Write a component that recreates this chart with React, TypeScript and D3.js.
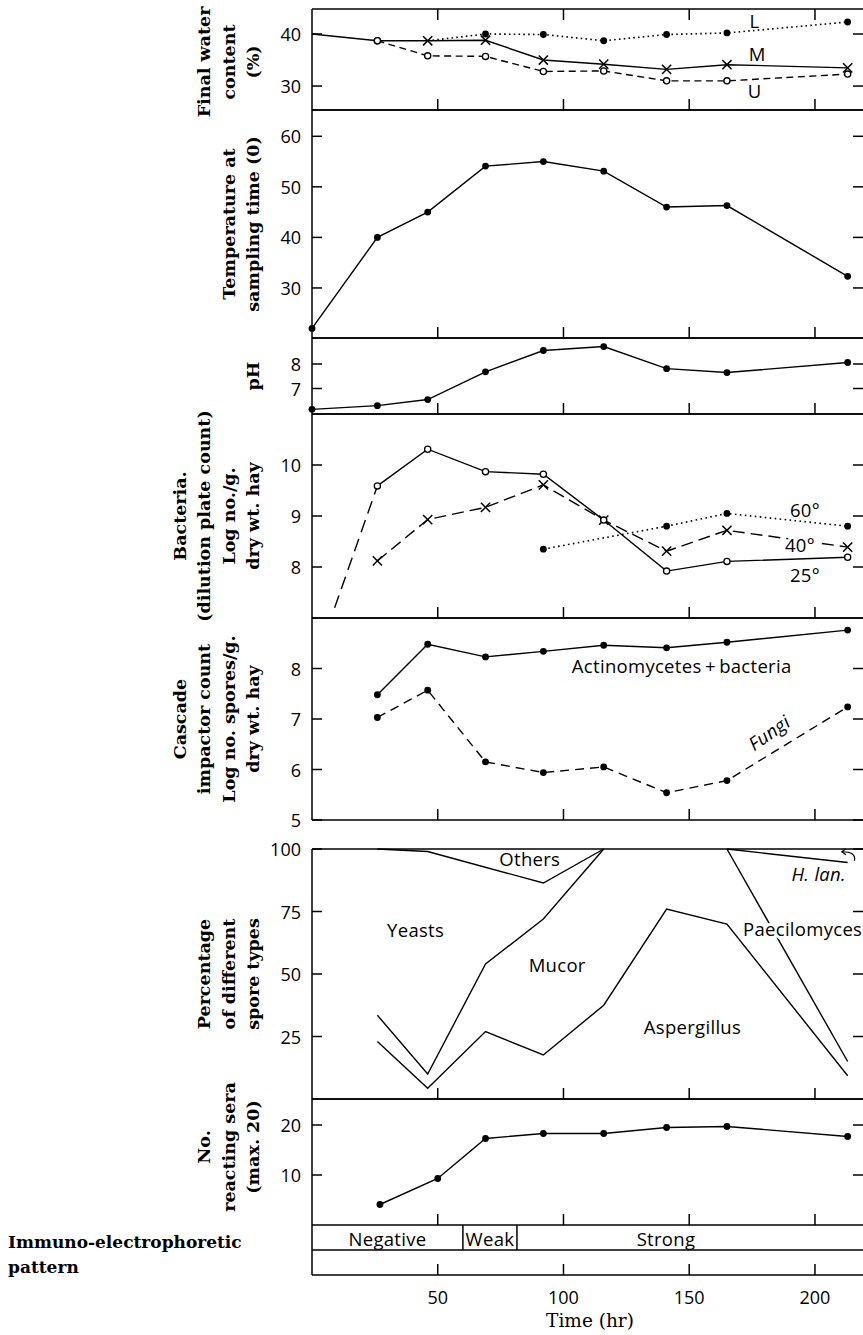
import React from 'react';
import * as d3 from 'd3';

// ---------------- data ----------------
const xTickValues = [50, 100, 150, 200];

// Final water content (%)
const waterStartTimes = [0, 26];
const waterStartValues = [40, 38.7];
const waterLTimes = [46, 69, 92, 116, 141, 165, 213];
const waterLValues = [38.7, 40.0, 39.9, 38.7, 39.9, 40.2, 42.3];
const waterMTimes = [26, 46, 69, 92, 116, 141, 165, 213];
const waterMValues = [38.7, 38.7, 38.8, 35.0, 34.2, 33.2, 34.1, 33.5];
const waterUTimes = [26, 46, 69, 92, 116, 141, 165, 213];
const waterUValues = [38.7, 35.8, 35.7, 32.8, 32.9, 31.0, 31.0, 32.3];
const waterTicks = [30, 40];

// Temperature at sampling time
const tempTimes = [0, 26, 46, 69, 92, 116, 141, 165, 213];
const tempValues = [22, 40, 45, 54.1, 55, 53.1, 46, 46.3, 32.3];
const tempTicks = [30, 40, 50, 60];

// pH
const phTimes = [0, 26, 46, 69, 92, 116, 141, 165, 213];
const phValues = [6.15, 6.3, 6.55, 7.68, 8.55, 8.71, 7.81, 7.65, 8.06];
const phTicks = [7, 8];

// Bacteria (dilution plate count)
const bactTimes = [26, 46, 69, 92, 116, 141, 165, 213];
const bact25Values = [9.59, 10.31, 9.87, 9.82, 8.92, 7.92, 8.11, 8.19];
const bact25LeadTimes = [9, 26];
const bact25LeadValues = [7.2, 9.59];
const bact40Values = [8.12, 8.93, 9.17, 9.61, 8.92, 8.31, 8.72, 8.39];
const bact60Times = [92, 141, 165, 213];
const bact60Values = [8.35, 8.8, 9.05, 8.8];
const bactTicks = [8, 9, 10];

// Cascade impactor count
const cascTimes = [26, 46, 69, 92, 116, 141, 165, 213];
const actinoValues = [7.48, 8.48, 8.23, 8.34, 8.46, 8.41, 8.52, 8.76];
const fungiValues = [7.03, 7.57, 6.15, 5.94, 6.05, 5.54, 5.78, 7.24];
const cascTicks = [5, 6, 7, 8];

// Percentage of different spore types
const othersTimes = [26, 46, 92, 116];
const othersValues = [100, 99, 86.4, 100];
const yeastMucorTimes = [26, 46, 69, 92, 116];
const yeastMucorValues = [33.5, 10, 54, 72, 100];
const mucorAspTimes = [26, 46, 69, 92, 116, 141, 165, 213];
const mucorAspValues = [23, 4.3, 27, 17.6, 37.5, 76, 70, 9.3];
const aspPaecTimes = [165, 213];
const aspPaecValues = [100, 15];
const hlanTimes = [165, 213];
const hlanValues = [100, 94.6];
const pctTicks = [25, 50, 75, 100];

// No. reacting sera
const seraTimes = [27, 50, 69, 92, 116, 141, 165, 213];
const seraValues = [4.1, 9.3, 17.3, 18.3, 18.3, 19.5, 19.7, 17.7];
const seraTicks = [10, 20];

// Immuno-electrophoretic pattern
const patternLabels = ['Negative', 'Weak', 'Strong'];
const patternBounds = [0, 60, 81.5, 200];

// ---------------- layout ----------------
const W = 863;
const H = 1335;
const XL = 312;
const XR = 864;
const x = d3.scaleLinear().domain([0, 219.5]).range([XL, XR]);

const SANS = '"Open Sans", "DejaVu Sans", sans-serif';
const SERIF = '"DejaVu Serif", serif';
const LW = 1.4;
const LABEL_SIZE = 18.5;
const TICK_SIZE = 18;
const AXLAB_SIZE = 17.5;

type Pt = [number, number];
const zip = (t: number[], v: number[]): Pt[] => t.map((ti, i) => [ti, v[i]]);

interface PanelDef {
  key: string;
  top: number;
  bottom: number;
  domain: [number, number];
  ticks: number[];
  topTicks?: boolean;
  label: string[];
  labelY: number;
}

const panels: PanelDef[] = [
  { key: 'water', top: 9, bottom: 110, domain: [25.4, 44.8], ticks: waterTicks, topTicks: true, label: ['Final water', 'content', '(%)'], labelY: 62 },
  { key: 'temp', top: 110, bottom: 338, domain: [20.1, 65.2], ticks: tempTicks, label: ['Temperature at', 'sampling time (0)'], labelY: 224 },
  { key: 'ph', top: 338, bottom: 414, domain: [5.96, 9.06], ticks: phTicks, label: ['pH'], labelY: 376 },
  { key: 'bact', top: 414, bottom: 618, domain: [7, 11], ticks: bactTicks, label: ['Bacteria.', '(dilution plate count)', 'Log no./g.', 'dry wt. hay'], labelY: 516 },
  { key: 'casc', top: 618, bottom: 820, domain: [5, 9], ticks: cascTicks, label: ['Cascade', 'impactor count', 'Log no. spores/g.', 'dry wt. hay'], labelY: 719 },
  { key: 'pct', top: 849, bottom: 1099, domain: [0, 100], ticks: pctTicks, label: ['Percentage', 'of different', 'spore types'], labelY: 974 },
  { key: 'sera', top: 1099, bottom: 1225, domain: [0, 25.2], ticks: seraTicks, label: ['No.', 'reacting sera', '(max. 20)'], labelY: 1147 },
];

const yScales: Record<string, d3.ScaleLinear<number, number>> = {};
panels.forEach((p) => {
  yScales[p.key] = d3.scaleLinear().domain(p.domain).range([p.bottom, p.top]);
});

function Marker({ kind, cx, cy }: { kind: string; cx: number; cy: number }) {
  if (kind === 'dot') return <circle cx={cx} cy={cy} r={3.4} fill="#000" />;
  if (kind === 'open') return <circle cx={cx} cy={cy} r={3.1} fill="#fff" stroke="#000" strokeWidth={1.3} />;
  if (kind === 'x') {
    const s = 4.6;
    return <path d={`M${cx - s},${cy - s}L${cx + s},${cy + s}M${cx - s},${cy + s}L${cx + s},${cy - s}`} stroke="#000" strokeWidth={1.5} fill="none" />;
  }
  return null;
}

function Series({ pk, t, v, dash, marker, skipFirstMarker, width = LW }: { pk: string; t: number[]; v: number[]; dash?: string; marker?: string; skipFirstMarker?: boolean; width?: number }) {
  const y = yScales[pk];
  const pts = zip(t, v);
  const line = d3.line<Pt>().x((d) => x(d[0])).y((d) => y(d[1]));
  return (
    <g>
      <path d={line(pts) || ''} fill="none" stroke="#000" strokeWidth={width} strokeDasharray={dash} />
      {marker && pts.map((d, i) => (skipFirstMarker && i === 0 ? null : <Marker key={i} kind={marker} cx={x(d[0])} cy={y(d[1])} />))}
    </g>
  );
}

function PanelFrame({ p }: { p: PanelDef }) {
  const y = yScales[p.key];
  const tl = 11;
  return (
    <g stroke="#000" strokeWidth={1.5} fill="none">
      <line x1={XL} x2={XL} y1={p.top} y2={p.bottom} />
      <line x1={XL} x2={XR} y1={p.top} y2={p.top} />
      <line x1={XL} x2={XR} y1={p.bottom} y2={p.bottom} />
      <line x1={XR} x2={XR} y1={p.top} y2={p.bottom} />
      {xTickValues.map((t) => (
        <line key={'b' + t} x1={x(t)} x2={x(t)} y1={p.bottom} y2={p.bottom - tl} />
      ))}
      {p.topTicks && xTickValues.map((t) => (
        <line key={'t' + t} x1={x(t)} x2={x(t)} y1={p.top} y2={p.top + tl} />
      ))}
      {p.ticks.map((v) => (
        <g key={'y' + v}>
          <line x1={XL} x2={XL + 10} y1={y(v)} y2={y(v)} />
          <line x1={XR - 11} x2={XR} y1={y(v)} y2={y(v)} />
        </g>
      ))}
      {p.ticks.map((v) => (
        <text key={'l' + v} x={301} y={y(v)} textAnchor="end" dominantBaseline="central" stroke="none" fill="#000" fontFamily={SANS} fontSize={TICK_SIZE}>
          {v}
        </text>
      ))}
      {p.label.map((s, i) => {
        const n = p.label.length;
        const cx = 253 - (n - 1 - i) * 24.5;
        return (
          <text key={'lab' + i} transform={`translate(${cx},${p.labelY}) rotate(-90)`} textAnchor="middle" dominantBaseline="central" stroke="none" fill="#000" fontFamily={SERIF} fontWeight="bold" fontSize={AXLAB_SIZE}>
            {s}
          </text>
        );
      })}
    </g>
  );
}

function Label({ pk, t, v, text, size = LABEL_SIZE, anchor = 'middle', italic = false, halo = false, rotate = 0 }: { pk: string; t: number; v: number; text: string; size?: number; anchor?: string; italic?: boolean; halo?: boolean; rotate?: number }) {
  const y = yScales[pk];
  return (
    <text
      transform={`translate(${x(t)},${y(v)}) rotate(${rotate})`}
      textAnchor={anchor as any}
      dominantBaseline="central"
      fontFamily={SANS}
      fontSize={size}
      fontStyle={italic ? 'italic' : 'normal'}
      letterSpacing={0.3}
      fill="#000"
      stroke={halo ? '#fff' : 'none'}
      strokeWidth={halo ? 6 : 0}
      paintOrder="stroke"
    >
      {text}
    </text>
  );
}

export default function App() {
  const stripTop = 1225;
  const stripMid = 1250;
  const stripBot = 1275;
  const yp = yScales['pct'];
  const arrowStart: Pt = [215.7, 95.3];
  const arrowTip: Pt = [210.7, 98.9];
  const ax0 = x(arrowStart[0]);
  const ay0 = yp(arrowStart[1]);
  const ax1 = x(arrowTip[0]);
  const ay1 = yp(arrowTip[1]);

  return (
    <svg width={W} height={H} viewBox={`0 0 ${W} ${H}`} style={{ position: 'absolute', left: 0, top: 0, background: '#fff' }}>
      <rect x={0} y={0} width={W} height={H} fill="#fff" />
      {panels.map((p) => (
        <PanelFrame key={p.key} p={p} />
      ))}

      {/* Water content */}
      <Series pk="water" t={waterStartTimes} v={waterStartValues} />
      <Series pk="water" t={waterLTimes} v={waterLValues} dash="1.6 3.2" marker="dot" skipFirstMarker width={1.6} />
      <Series pk="water" t={waterUTimes} v={waterUValues} dash="7 4.5" marker="open" />
      <Series pk="water" t={waterMTimes} v={waterMValues} marker="x" skipFirstMarker />
      <Marker kind="open" cx={x(waterUTimes[0])} cy={yScales['water'](waterUValues[0])} />
      <Label pk="water" t={176} v={42.6} text="L" />
      <Label pk="water" t={177} v={36.2} text="M" />
      <Label pk="water" t={176} v={29.2} text="U" />

      {/* Temperature */}
      <Series pk="temp" t={tempTimes} v={tempValues} marker="dot" />

      {/* pH */}
      <Series pk="ph" t={phTimes} v={phValues} marker="dot" />

      {/* Bacteria */}
      <Series pk="bact" t={bact25LeadTimes} v={bact25LeadValues} dash="13 7" />
      <Series pk="bact" t={bact60Times} v={bact60Values} dash="1.6 3.4" marker="dot" width={1.6} />
      <Series pk="bact" t={bactTimes} v={bact40Values} dash="12 6" marker="x" />
      <Series pk="bact" t={bactTimes} v={bact25Values} marker="open" />
      <Label pk="bact" t={196} v={9.12} text="60°" />
      <Label pk="bact" t={194} v={8.45} text="40°" halo />
      <Label pk="bact" t={196} v={7.85} text="25°" />

      {/* Cascade */}
      <Series pk="casc" t={cascTimes} v={actinoValues} marker="dot" />
      <Series pk="casc" t={cascTimes} v={fungiValues} dash="9 6" marker="dot" />
      <Label pk="casc" t={147} v={8.05} text={'Actinomycetes\u2009+\u2009bacteria'} />
      <Label pk="casc" t={181.6} v={6.74} text="Fungi" italic rotate={-35} />

      {/* Percentage */}
      <Series pk="pct" t={othersTimes} v={othersValues} />
      <Series pk="pct" t={yeastMucorTimes} v={yeastMucorValues} />
      <Series pk="pct" t={mucorAspTimes} v={mucorAspValues} />
      <Series pk="pct" t={aspPaecTimes} v={aspPaecValues} />
      <Series pk="pct" t={hlanTimes} v={hlanValues} />
      <Label pk="pct" t={86.6} v={96.3} text="Others" />
      <Label pk="pct" t={41.2} v={67.9} text="Yeasts" />
      <Label pk="pct" t={97.5} v={54} text="Mucor" />
      <Label pk="pct" t={151.3} v={28.9} text="Aspergillus" />
      <Label pk="pct" t={171.4} v={68.3} text="Paecilomyces" anchor="start" halo />
      <Label pk="pct" t={201.5} v={90.3} text="H. lan." italic />
      <path d={`M${ax0},${ay0} Q${ax0 + 2},${ay1} ${ax1},${ay1}`} fill="none" stroke="#000" strokeWidth={1.2} />
      <path d={`M${ax1 + 4},${ay1 - 3} L${ax1},${ay1} L${ax1 + 4},${ay1 + 3}`} fill="none" stroke="#000" strokeWidth={1.2} />

      {/* Sera */}
      <Series pk="sera" t={seraTimes} v={seraValues} marker="dot" />

      {/* Immuno-electrophoretic strip */}
      <g stroke="#000" strokeWidth={1.5} fill="none">
        <line x1={XL} x2={XL} y1={stripTop} y2={stripBot} />
        <line x1={XL} x2={XR} y1={stripMid} y2={stripMid} />
        <line x1={XL} x2={XR} y1={stripBot} y2={stripBot} />
        {patternBounds.slice(1, 3).map((b) => (
          <line key={b} x1={x(b)} x2={x(b)} y1={stripTop} y2={stripMid} />
        ))}
        {xTickValues.map((t) => (
          <line key={t} x1={x(t)} x2={x(t)} y1={stripBot} y2={stripBot - 11} />
        ))}
      </g>
      {patternLabels.map((s, i) => (
        <text key={s} x={x((patternBounds[i] + patternBounds[i + 1]) / 2)} y={(stripTop + stripMid) / 2 + 1} textAnchor="middle" dominantBaseline="central" fontFamily={SANS} fontSize={LABEL_SIZE} letterSpacing={0.3}>
          {s}
        </text>
      ))}
      <text x={8} y={1242} dominantBaseline="central" fontFamily={SERIF} fontWeight="bold" fontSize={17}>Immuno-electrophoretic</text>
      <text x={8} y={1267} dominantBaseline="central" fontFamily={SERIF} fontWeight="bold" fontSize={17}>pattern</text>

      {xTickValues.map((t) => (
        <text key={t} x={x(t)} y={1297} textAnchor="middle" dominantBaseline="central" fontFamily={SANS} fontSize={TICK_SIZE}>
          {t}
        </text>
      ))}
      <text x={590} y={1320} textAnchor="middle" dominantBaseline="central" fontFamily={SERIF} fontSize={18.5}>Time (hr)</text>
    </svg>
  );
}
